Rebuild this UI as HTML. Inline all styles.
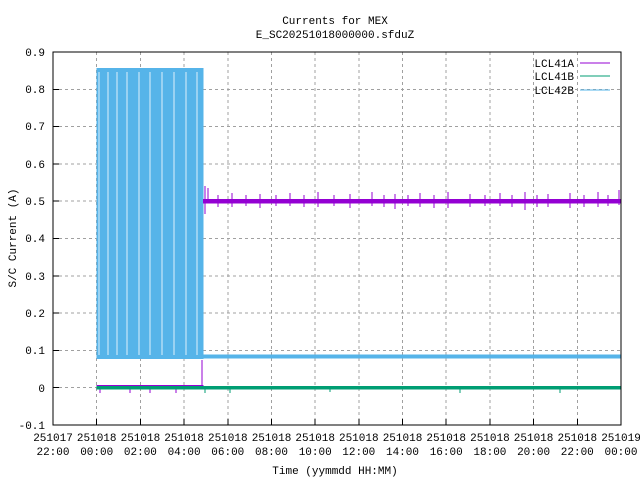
<!DOCTYPE html>
<html><head><meta charset="utf-8"><style>
body{margin:0;background:#fff}
text{font-family:"Liberation Mono","DejaVu Sans Mono",monospace;font-size:11px;fill:#000}
line,rect{shape-rendering:crispEdges}
</style></head><body>
<svg width="640" height="480" xmlns="http://www.w3.org/2000/svg">
<rect width="640" height="480" fill="#fff"/>
<g stroke="#a0a0a0" stroke-dasharray="3,3" stroke-width="1">
<line x1="53" x2="621" y1="89.3" y2="89.3"/><line x1="53" x2="621" y1="126.6" y2="126.6"/>
<line x1="53" x2="621" y1="163.9" y2="163.9"/><line x1="53" x2="621" y1="201.2" y2="201.2"/>
<line x1="53" x2="621" y1="238.5" y2="238.5"/><line x1="53" x2="621" y1="275.8" y2="275.8"/>
<line x1="53" x2="621" y1="313.1" y2="313.1"/><line x1="53" x2="621" y1="350.4" y2="350.4"/>
<line x1="53" x2="621" y1="387.7" y2="387.7"/>
<line y1="52" y2="425" x1="96.7" x2="96.7"/><line y1="52" y2="425" x1="140.4" x2="140.4"/>
<line y1="52" y2="425" x1="184.1" x2="184.1"/><line y1="52" y2="425" x1="227.8" x2="227.8"/>
<line y1="52" y2="425" x1="271.5" x2="271.5"/><line y1="52" y2="425" x1="315.2" x2="315.2"/>
<line y1="52" y2="425" x1="358.8" x2="358.8"/><line y1="52" y2="425" x1="402.5" x2="402.5"/>
<line y1="52" y2="425" x1="446.2" x2="446.2"/><line y1="52" y2="425" x1="489.9" x2="489.9"/>
<line y1="52" y2="425" x1="533.6" x2="533.6"/><line y1="52" y2="425" x1="577.3" x2="577.3"/>
</g>
<!-- blue LCL42B -->
<rect x="96.5" y="68" width="107" height="291" fill="#56b4e9"/>
<g stroke="#fff" stroke-width="1" opacity="0.8">
<line x1="99" x2="99" y1="72" y2="355"/><line x1="108" x2="108" y1="72" y2="355"/>
<line x1="117" x2="117" y1="72" y2="355"/>
<line x1="127" x2="127" y1="72" y2="355"/><line x1="139" x2="139" y1="72" y2="355"/>
<line x1="150" x2="150" y1="72" y2="355"/>
<line x1="162" x2="162" y1="72" y2="355"/><line x1="174" x2="174" y1="72" y2="355"/>
<line x1="186" x2="186" y1="72" y2="355"/><line x1="197" x2="197" y1="72" y2="355"/>
</g>
<rect x="203" y="354.5" width="418" height="4" fill="#56b4e9"/>
<!-- purple LCL41A -->
<rect x="203" y="199" width="418" height="4.5" fill="#9400d3"/>
<g stroke="#9400d3" stroke-width="1">
<line x1="205" x2="205" y1="186" y2="214"/><line x1="208" x2="208" y1="188" y2="200"/>
<line x1="218" x2="218" y1="195" y2="207"/><line x1="232" x2="232" y1="193" y2="207"/><line x1="246" x2="246" y1="195" y2="206"/><line x1="260" x2="260" y1="194" y2="208"/>
<line x1="276" x2="276" y1="195" y2="206"/><line x1="290" x2="290" y1="193" y2="206"/><line x1="304" x2="304" y1="195" y2="207"/><line x1="318" x2="318" y1="192" y2="207"/>
<line x1="334" x2="334" y1="195" y2="206"/><line x1="350" x2="350" y1="194" y2="208"/><line x1="372" x2="372" y1="192" y2="206"/><line x1="384" x2="384" y1="195" y2="207"/>
<line x1="395" x2="395" y1="194" y2="209"/><line x1="408" x2="408" y1="195" y2="206"/><line x1="420" x2="420" y1="193" y2="207"/><line x1="434" x2="434" y1="195" y2="208"/>
<line x1="448" x2="448" y1="192" y2="208"/><line x1="470" x2="470" y1="194" y2="207"/><line x1="485" x2="485" y1="195" y2="206"/>
<line x1="500" x2="500" y1="193" y2="206"/><line x1="512" x2="512" y1="195" y2="207"/><line x1="525" x2="525" y1="192" y2="210"/><line x1="537" x2="537" y1="195" y2="207"/>
<line x1="548" x2="548" y1="194" y2="207"/><line x1="570" x2="570" y1="193" y2="208"/><line x1="584" x2="584" y1="195" y2="207"/>
<line x1="598" x2="598" y1="192" y2="207"/><line x1="608" x2="608" y1="195" y2="206"/><line x1="619" x2="619" y1="190" y2="205"/>
<line x1="202" x2="202" y1="360" y2="388"/>
</g>
<rect x="96.5" y="385" width="107" height="3" fill="#9400d3"/>
<g stroke="#9400d3"><line x1="100" x2="100" y1="386" y2="393"/><line x1="130" x2="130" y1="386" y2="393"/><line x1="150" x2="150" y1="386" y2="393"/><line x1="176" x2="176" y1="386" y2="393"/></g>
<!-- green LCL41B -->
<rect x="96.5" y="386" width="524.5" height="3.5" fill="#009e73"/>
<g stroke="#009e73"><line x1="205" x2="205" y1="388" y2="393"/><line x1="230" x2="230" y1="388" y2="393"/><line x1="330" x2="330" y1="388" y2="392"/><line x1="460" x2="460" y1="388" y2="393"/><line x1="560" x2="560" y1="388" y2="393"/></g>
<!-- frame -->
<rect x="53" y="52" width="568" height="373" fill="none" stroke="#000"/>
<g stroke="#000">
<line x1="53" x2="59" y1="89.3" y2="89.3"/><line x1="53" x2="59" y1="126.6" y2="126.6"/><line x1="53" x2="59" y1="163.9" y2="163.9"/>
<line x1="53" x2="59" y1="201.2" y2="201.2"/><line x1="53" x2="59" y1="238.5" y2="238.5"/><line x1="53" x2="59" y1="275.8" y2="275.8"/>
<line x1="53" x2="59" y1="313.1" y2="313.1"/><line x1="53" x2="59" y1="350.4" y2="350.4"/><line x1="53" x2="59" y1="387.7" y2="387.7"/>
<line y1="425" y2="419" x1="96.7" x2="96.7"/><line y1="425" y2="419" x1="140.4" x2="140.4"/><line y1="425" y2="419" x1="184.1" x2="184.1"/>
<line y1="425" y2="419" x1="227.8" x2="227.8"/><line y1="425" y2="419" x1="271.5" x2="271.5"/><line y1="425" y2="419" x1="315.2" x2="315.2"/>
<line y1="425" y2="419" x1="358.8" x2="358.8"/><line y1="425" y2="419" x1="402.5" x2="402.5"/><line y1="425" y2="419" x1="446.2" x2="446.2"/>
<line y1="425" y2="419" x1="489.9" x2="489.9"/><line y1="425" y2="419" x1="533.6" x2="533.6"/><line y1="425" y2="419" x1="577.3" x2="577.3"/>
</g>
<g text-anchor="end">
<text x="45" y="56">0.9</text><text x="45" y="93">0.8</text><text x="45" y="130">0.7</text><text x="45" y="168">0.6</text>
<text x="45" y="205">0.5</text><text x="45" y="242">0.4</text><text x="45" y="280">0.3</text><text x="45" y="317">0.2</text>
<text x="45" y="354">0.1</text><text x="45" y="392">0</text><text x="45" y="429">-0.1</text>
</g>
<g text-anchor="middle">
<text x="53" y="441">251017</text><text x="53" y="455">22:00</text>
<text x="96.7" y="441">251018</text><text x="96.7" y="455">00:00</text>
<text x="140.4" y="441">251018</text><text x="140.4" y="455">02:00</text>
<text x="184.1" y="441">251018</text><text x="184.1" y="455">04:00</text>
<text x="227.8" y="441">251018</text><text x="227.8" y="455">06:00</text>
<text x="271.5" y="441">251018</text><text x="271.5" y="455">08:00</text>
<text x="315.2" y="441">251018</text><text x="315.2" y="455">10:00</text>
<text x="358.8" y="441">251018</text><text x="358.8" y="455">12:00</text>
<text x="402.5" y="441">251018</text><text x="402.5" y="455">14:00</text>
<text x="446.2" y="441">251018</text><text x="446.2" y="455">16:00</text>
<text x="489.9" y="441">251018</text><text x="489.9" y="455">18:00</text>
<text x="533.6" y="441">251018</text><text x="533.6" y="455">20:00</text>
<text x="577.3" y="441">251018</text><text x="577.3" y="455">22:00</text>
<text x="621" y="441">251019</text><text x="621" y="455">00:00</text>
<text x="335" y="24">Currents for MEX</text>
<text x="335" y="38">E_SC20251018000000.sfduZ</text>
<text x="335" y="474">Time (yymmdd HH:MM)</text>
</g>
<text transform="translate(16,238) rotate(-90)" text-anchor="middle">S/C Current (A)</text>
<g text-anchor="end">
<text x="574" y="67">LCL41A</text><text x="574" y="80">LCL41B</text><text x="574" y="94">LCL42B</text>
</g>
<line x1="580" x2="610" y1="63" y2="63" stroke="#9400d3"/>
<line x1="580" x2="610" y1="76" y2="76" stroke="#009e73"/>
<line x1="580" x2="610" y1="90" y2="90" stroke="#56b4e9"/>
</svg>
</body></html>
